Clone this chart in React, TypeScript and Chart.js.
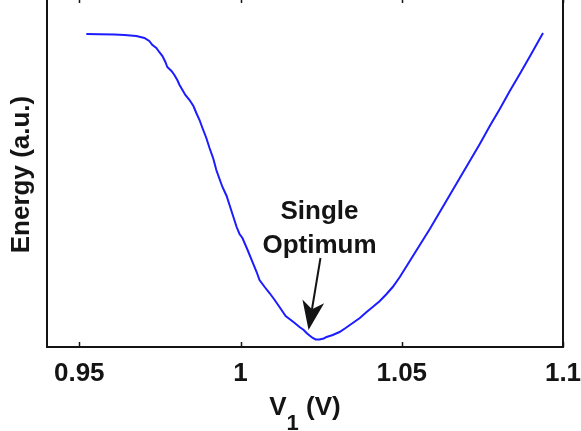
import React, { useEffect, useRef } from 'react';
import { Chart, registerables } from 'chart.js';

Chart.register(...registerables);

// V1 (V)
const voltage = [
  0.9522, 0.9562, 0.9609, 0.964, 0.9677, 0.9702, 0.9717, 0.9727, 0.9739, 0.9748,
  0.9758, 0.9767, 0.9773, 0.9786, 0.9795, 0.9804, 0.9811, 0.982, 0.9829, 0.9842,
  0.9854, 0.9863, 0.9873, 0.9882, 0.9894, 0.9904, 0.9916, 0.9925, 0.9935, 0.9944,
  0.9957, 0.9966, 0.9978, 0.9988, 0.9997, 1.0006, 1.0022, 1.0037, 1.005, 1.0059,
  1.0075, 1.009, 1.0106, 1.0121, 1.014, 1.0152, 1.0168, 1.0183, 1.0196, 1.0205,
  1.0214, 1.0224, 1.0233, 1.0245, 1.0258, 1.0267, 1.0286, 1.0307, 1.0326, 1.0348,
  1.037, 1.0391, 1.041, 1.0432, 1.0453, 1.0472, 1.0494, 1.0525, 1.0556, 1.0587,
  1.0618, 1.0649, 1.068, 1.0711, 1.0742, 1.0773, 1.0804, 1.0835, 1.0866, 1.0898,
  1.0938,
];

// Energy (a.u.)
const energy = [
  0.8968, 0.8963, 0.8954, 0.894, 0.8911, 0.8854, 0.8768, 0.8653, 0.8567, 0.8453,
  0.8338, 0.8166, 0.8023, 0.7908, 0.7794, 0.765, 0.7507, 0.7364, 0.7221, 0.7077,
  0.6905, 0.6705, 0.6504, 0.6275, 0.5989, 0.5702, 0.5387, 0.5072, 0.4814, 0.4585,
  0.4327, 0.4069, 0.3725, 0.3438, 0.3238, 0.3123, 0.2779, 0.2436, 0.2149, 0.192,
  0.1719, 0.1547, 0.1347, 0.1146, 0.0888, 0.0802, 0.0688, 0.0573, 0.0487, 0.0401,
  0.033, 0.0258, 0.0215, 0.0215, 0.0244, 0.0287, 0.0344, 0.043, 0.0544, 0.0688,
  0.0831, 0.1003, 0.1146, 0.1318, 0.1519, 0.1719, 0.2006, 0.2464, 0.2923, 0.3381,
  0.3868, 0.4355, 0.4842, 0.533, 0.5817, 0.6332, 0.6819, 0.7335, 0.7822, 0.8338,
  0.8997,
];

const xTickValues = [0.95, 1.0, 1.05, 1.1];
const xTickLabels = ['0.95', '1', '1.05', '1.1'];
const xTitleParts = ['V', '1', ' (V)'];
const yTitle = 'Energy (a.u.)';
const noteLines = ['Single', 'Optimum'];
const noteX = 1.0245;
const noteY = [0.3668, 0.2693];
const arrowFrom = { x: 1.0248, y: 0.255 };
const arrowTo = { x: 1.0211, y: 0.0487 };

const FONT = '"Liberation Sans", Arial, Helvetica, sans-serif';
const INK = '#141414';

const decor = {
  id: 'decor',
  afterDraw(chart: any) {
    const { ctx, chartArea } = chart;
    const xs = chart.scales.x;
    const ys = chart.scales.y;
    const { left, right, top, bottom } = chartArea;
    ctx.save();
    // frame
    ctx.strokeStyle = INK;
    ctx.lineWidth = 2;
    ctx.strokeRect(left, top, right - left, bottom - top);
    // inward ticks (bottom and top)
    ctx.lineWidth = 1.5;
    xTickValues.forEach((v) => {
      const px = Math.round(xs.getPixelForValue(v)) + 0.5;
      ctx.beginPath();
      ctx.moveTo(px, bottom);
      ctx.lineTo(px, bottom - 5);
      ctx.moveTo(px, top);
      ctx.lineTo(px, top + 5);
      ctx.stroke();
    });
    // annotation text
    ctx.fillStyle = INK;
    ctx.font = `bold 26px ${FONT}`;
    ctx.textAlign = 'center';
    ctx.textBaseline = 'alphabetic';
    noteLines.forEach((t, i) => {
      ctx.fillText(t, xs.getPixelForValue(noteX), ys.getPixelForValue(noteY[i]));
    });
    // arrow
    const x0 = xs.getPixelForValue(arrowFrom.x);
    const y0 = ys.getPixelForValue(arrowFrom.y);
    const x1 = xs.getPixelForValue(arrowTo.x);
    const y1 = ys.getPixelForValue(arrowTo.y);
    const len = Math.hypot(x1 - x0, y1 - y0);
    const ux = (x1 - x0) / len;
    const uy = (y1 - y0) / len;
    const px = -uy;
    const py = ux;
    const headLen = 29;
    const headW = 11;
    const notch = 21;
    ctx.strokeStyle = INK;
    ctx.lineWidth = 2;
    ctx.beginPath();
    ctx.moveTo(x0, y0);
    ctx.lineTo(x1 - ux * notch, y1 - uy * notch);
    ctx.stroke();
    const bx = x1 - ux * headLen;
    const by = y1 - uy * headLen;
    ctx.beginPath();
    ctx.moveTo(x1, y1);
    ctx.lineTo(bx + px * headW, by + py * headW);
    ctx.lineTo(x1 - ux * notch, y1 - uy * notch);
    ctx.lineTo(bx - px * headW, by - py * headW);
    ctx.closePath();
    ctx.fill();
    // x title with subscript
    const mainFont = `bold 26px ${FONT}`;
    const subFont = `bold 22px ${FONT}`;
    ctx.font = mainFont;
    const w0 = ctx.measureText(xTitleParts[0]).width;
    const w2 = ctx.measureText(xTitleParts[2]).width;
    ctx.font = subFont;
    const w1 = ctx.measureText(xTitleParts[1]).width;
    const total = w0 + w1 + w2;
    let cx = (left + right) / 2 - total / 2;
    const base = bottom + 68;
    ctx.textAlign = 'left';
    ctx.font = mainFont;
    ctx.fillText(xTitleParts[0], cx, base);
    cx += w0;
    ctx.font = subFont;
    ctx.fillText(xTitleParts[1], cx, base + 15);
    cx += w1;
    ctx.font = mainFont;
    ctx.fillText(xTitleParts[2], cx, base);
    // y title
    ctx.translate(22, (top + bottom) / 2 + 2);
    ctx.rotate(-Math.PI / 2);
    ctx.textAlign = 'center';
    ctx.textBaseline = 'middle';
    ctx.fillText(yTitle, 0, 0);
    ctx.restore();
  },
};

export default function App() {
  const ref = useRef<HTMLCanvasElement | null>(null);

  useEffect(() => {
    if (!ref.current) return;
    const points = voltage.map((v, i) => ({ x: v, y: energy[i] }));
    const chart = new Chart(ref.current, {
      type: 'line',
      data: {
        datasets: [
          {
            data: points,
            borderColor: 'rgb(28,28,255)',
            borderWidth: 2,
            pointRadius: 0,
            tension: 0,
            fill: false,
          },
        ],
      },
      options: {
        animation: false,
        responsive: false,
        maintainAspectRatio: false,
        devicePixelRatio: 1,
        layout: { padding: { left: 0, right: 18, top: 0, bottom: 0 } },
        plugins: { legend: { display: false }, tooltip: { enabled: false } },
        scales: {
          x: {
            type: 'linear',
            min: 0.94,
            max: 1.1,
            grid: { display: false },
            border: { display: false },
            afterBuildTicks: (s: any) => {
              s.ticks = xTickValues.map((v) => ({ value: v }));
            },
            afterFit: (s: any) => {
              s.height = 84;
              s.paddingLeft = 0;
              s.paddingRight = 0;
            },
            ticks: {
              autoSkip: false,
              maxRotation: 0,
              padding: 3,
              color: INK,
              font: { family: FONT, size: 26, weight: 'bold' },
              callback: (_v: any, i: number) => xTickLabels[i],
            },
          },
          y: {
            type: 'linear',
            min: 0,
            max: 1,
            grid: { display: false },
            border: { display: false },
            ticks: { display: false },
            afterFit: (s: any) => {
              s.width = 47;
              s.paddingTop = 0;
              s.paddingBottom = 0;
            },
          },
        },
      } as any,
      plugins: [decor],
    });
    return () => chart.destroy();
  }, []);

  return (
    <div style={{ position: 'fixed', left: 0, top: -2, width: 581, height: 433, background: '#fff' }}>
      <canvas ref={ref} width={581} height={433} style={{ display: 'block', width: 581, height: 433 }} />
    </div>
  );
}
